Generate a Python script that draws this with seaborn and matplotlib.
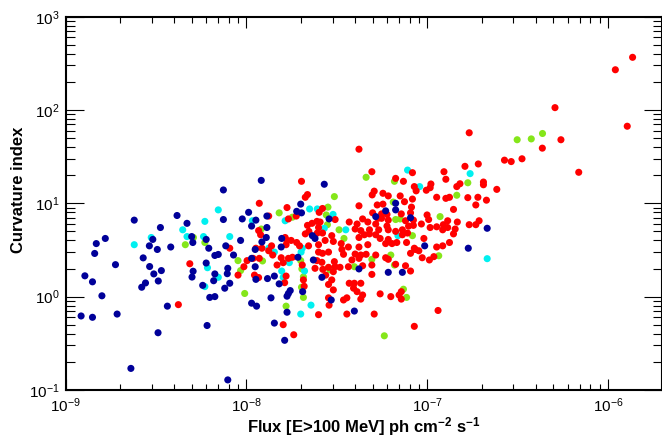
import numpy as np
import pandas as pd
import matplotlib
matplotlib.use("Agg")
import matplotlib.pyplot as plt
from matplotlib.ticker import LogLocator, LogFormatterMathtext, NullFormatter
import seaborn as sns

# ---------------- data ----------------
navy_flux = [2.40e-9, 4.14e-9, 4.70e-9, 3.35e-9, 3.04e-9, 1.66e-9, 1.48e-9, 2.91e-9, 3.22e-9, 3.82e-9,
             4.99e-9, 6.0e-9, 5.06e-9, 6.2e-9, 1.45e-9, 2.69e-9, 1.89e-9, 2.92e-9, 3.39e-9, 3.08e-9,
             1.28e-9, 1.41e-9, 3.26e-9, 2.77e-9, 2.64e-9, 6.0e-9, 5.08e-9, 5.01e-9, 5.74e-9, 6.28e-9,
             1.59e-9, 3.66e-9, 1.22e-9, 1.41e-9, 1.93e-9, 6.07e-9, 3.25e-9, 2.30e-9, 1.21e-8, 7.47e-9,
             2.70e-8, 2.0e-8, 1.03e-8, 1.90e-8, 2.02e-8, 2.87e-8, 7.47e-9, 9.5e-9, 1.13e-8, 1.30e-8,
             1.07e-8, 1.30e-8, 1.29e-8, 9.3e-9, 1.22e-8, 1.57e-8, 2.32e-8, 2.40e-8, 7.7e-9, 1.56e-8,
             6.7e-9, 7.0e-9, 8.5e-9, 1.12e-8, 1.12e-8, 7.9e-9, 7.85e-9, 6.7e-9, 6.6e-9, 8.1e-9,
             7.6e-9, 1.13e-8, 1.31e-8, 1.43e-8, 1.52e-8, 1.93e-8, 2.05e-8, 1.71e-8, 1.75e-8, 1.68e-8,
             1.37e-8, 6.7e-9, 1.07e-8, 1.14e-8, 1.68e-8, 1.43e-8, 1.63e-8, 7.9e-9, 2.35e-8, 2.62e-8,
             6.7e-8, 6.7e-8, 5.9e-8, 8.1e-8, 5.2e-8, 9.7e-8, 4.2e-8, 6.1e-8, 7.3e-8, 2.95e-8,
             3.96e-8, 2.15e-7, 1.69e-7, 1.07e-8]
navy_ci = [6.6, 7.4, 6.1, 5.5, 4.1, 4.2, 3.7, 3.5, 3.2, 3.4,
           4.4, 4.1, 3.8, 3.3, 2.9, 2.6, 2.2, 2.1, 1.9, 1.75,
           1.67, 1.44, 1.47, 1.40, 1.26, 2.29, 1.87, 1.62, 1.32, 0.98,
           1.02, 0.79, 0.62, 0.60, 0.65, 0.49, 0.41, 0.17, 17.6, 13.9,
           16.0, 9.8, 8.0, 8.2, 7.9, 6.8, 6.7, 6.8, 6.6, 7.3,
           5.7, 5.5, 4.3, 4.0, 3.85, 4.2, 4.5, 4.2, 3.5, 3.4,
           2.76, 2.83, 2.79, 3.2, 2.09, 2.01, 1.76, 1.75, 1.48, 1.39,
           1.23, 1.53, 1.56, 1.66, 1.37, 2.64, 1.13, 1.08, 1.16, 1.01,
           0.97, 1.0, 0.85, 0.79, 0.68, 0.52, 0.34, 0.128, 2.47, 1.61,
           10.0, 8.5, 8.3, 7.0, 7.2, 3.5, 1.98, 1.82, 1.82, 0.92,
           0.70, 5.4, 3.3, 2.57]

cyan_flux = [5.9e-9, 4.45e-9, 2.98e-9, 2.40e-9, 4.7e-9, 5.8e-9, 6.1e-9, 5.9e-9, 7.0e-9, 2.24e-8,
             2.47e-8, 1.64e-8, 1.08e-8, 8.1e-9, 2.70e-8, 1.33e-8, 2.04e-8, 1.43e-8, 7.0e-9, 1.60e-8,
             1.57e-8, 1.73e-8, 2.01e-8, 2.10e-8, 2.0e-8, 2.28e-8, 7.8e-8, 9.1e-8, 3.02e-8, 3.55e-8,
             6.9e-8, 1.73e-7, 2.15e-7]
cyan_ci = [6.4, 5.2, 4.3, 3.6, 4.4, 4.4, 2.04, 1.28, 8.5, 8.7,
           8.7, 6.5, 6.5, 4.4, 5.4, 3.3, 3.3, 3.0, 1.61, 1.61,
           1.88, 2.31, 3.0, 1.88, 0.65, 0.81, 22.7, 15.1, 7.6, 5.2,
           4.5, 20.8, 2.55]

green_flux = [5.1e-9, 4.6e-9, 5.9e-9, 1.52e-8, 1.80e-8, 2.77e-8, 1.21e-8, 2.81e-8, 9.0e-9, 1.23e-8,
              9.3e-9, 2.0e-8, 2.03e-8, 2.07e-8, 2.02e-8, 2.07e-8, 9.8e-9, 1.66e-8, 2.85e-8, 4.6e-8,
              6.6e-8, 3.07e-8, 6.5e-8, 1.18e-7, 6.7e-8, 7.1e-8, 2.83e-8, 3.26e-8, 8.3e-8, 3.47e-8,
              4.95e-8, 6.3e-8, 1.16e-7, 2.91e-8, 3.96e-8, 6.6e-8, 7.4e-8, 7.7e-8, 5.8e-8, 4.35e-7,
              3.77e-7, 3.15e-7, 1.68e-7, 1.46e-7]
green_ci = [4.3, 3.6, 3.8, 7.9, 7.1, 7.5, 5.3, 5.9, 2.43, 2.41,
            1.90, 2.43, 1.98, 1.63, 1.26, 0.98, 1.08, 0.79, 2.04, 19.0,
            17.2, 11.8, 10.3, 7.2, 6.7, 6.8, 9.1, 5.2, 4.5, 4.2,
            2.51, 2.79, 2.74, 1.93, 2.09, 2.18, 1.20, 0.98, 0.38, 56,
            49, 48, 16.6, 12.2]

red_flux = [4.87e-9, 4.21e-9, 2.02e-8, 2.18e-8, 2.12e-8, 1.18e-8, 1.68e-8, 2.64e-8, 2.53e-8, 1.89e-8,
            1.71e-8, 1.33e-8, 1.17e-8, 1.20e-8, 1.64e-8, 1.68e-8, 1.77e-8, 1.90e-8, 1.66e-8, 2.12e-8,
            2.22e-8, 2.31e-8, 2.18e-8, 2.46e-8, 2.56e-8, 2.51e-8, 2.47e-8, 2.64e-8, 2.73e-8, 2.51e-8,
            2.21e-8, 1.13e-8, 1.22e-8, 8.1e-9, 1.01e-8, 9.7e-9, 1.09e-8, 1.18e-8, 1.33e-8, 1.40e-8,
            9.0e-9, 1.11e-8, 1.17e-8, 1.66e-8, 1.63e-8, 1.48e-8, 1.56e-8, 1.60e-8, 1.71e-8, 1.80e-8,
            1.97e-8, 2.04e-8, 2.07e-8, 2.09e-8, 2.51e-8, 1.60e-8, 1.83e-8, 2.51e-8, 2.64e-8, 2.46e-8,
            2.62e-8, 2.40e-8, 2.65e-8, 2.75e-8, 2.85e-8, 2.87e-8, 1.38e-8, 4.2e-8, 4.95e-8, 8.3e-8,
            6.7e-8, 7.4e-8, 1.24e-7, 1.27e-7, 8.5e-8, 1.05e-7, 1.04e-7, 9.9e-8, 8.7e-8, 5.1e-8,
            4.97e-8, 5.7e-8, 6.1e-8, 7.1e-8, 8.3e-8, 1.13e-7, 1.27e-7, 1.33e-7, 4.2e-8, 5.3e-8,
            5.7e-8, 7.5e-8, 8.2e-8, 8.1e-8, 5.0e-8, 5.6e-8, 6.0e-8, 7.2e-8, 1.0e-7, 7.6e-8,
            8.4e-8, 1.02e-7, 5.35e-8, 5.6e-8, 6.1e-8, 3.71e-8, 4.4e-8, 4.7e-8, 4.1e-8, 5.2e-8,
            6.0e-8, 7.9e-8, 8.4e-8, 9.3e-8, 1.04e-7, 1.13e-7, 1.23e-7, 1.30e-7, 1.22e-7, 3.10e-8,
            4.0e-8, 4.3e-8, 4.8e-8, 4.8e-8, 5.4e-8, 6.1e-8, 6.7e-8, 7.3e-8, 7.8e-8, 7.3e-8,
            2.97e-8, 4.2e-8, 4.5e-8, 5.2e-8, 5.5e-8, 6.1e-8, 9.6e-8, 3.03e-8, 3.35e-8, 3.67e-8,
            4.2e-8, 4.7e-8, 5.9e-8, 6.4e-8, 6.8e-8, 7.7e-8, 8.5e-8, 1.13e-7, 1.22e-7, 2.85e-8,
            3.38e-8, 3.45e-8, 4.0e-8, 4.3e-8, 4.6e-8, 4.2e-8, 5.2e-8, 5.9e-8, 6.1e-8, 8.1e-8,
            8.6e-8, 9.0e-8, 9.4e-8, 1.03e-7, 1.09e-7, 3.07e-8, 2.85e-8, 3.10e-8, 3.03e-8, 3.30e-8,
            3.84e-8, 3.67e-8, 4.4e-8, 4.95e-8, 4.95e-8, 6.7e-8, 7.6e-8, 8.1e-8, 2.97e-8, 2.85e-8,
            3.03e-8, 3.71e-8, 3.96e-8, 4.3e-8, 3.92e-8, 4.1e-8, 4.4e-8, 4.3e-8, 3.45e-8, 3.60e-8,
            5.5e-8, 6.3e-8, 7.2e-8, 7.2e-8, 7.0e-8, 3.60e-8, 5.1e-8, 1.15e-7, 8.5e-8, 1.37e-6,
            1.10e-6, 5.1e-7, 1.28e-6, 1.71e-7, 5.5e-7, 4.34e-7, 2.68e-7, 2.92e-7, 3.35e-7, 6.9e-7,
            1.62e-7, 1.92e-7, 2.05e-7, 2.05e-7, 1.52e-7, 1.46e-7, 2.43e-7, 1.68e-7, 1.91e-7, 2.13e-7,
            1.86e-7, 1.40e-7, 1.30e-7, 1.47e-7, 1.71e-7, 1.86e-7, 1.94e-7, 1.43e-7, 1.40e-7, 1.33e-7]
red_ci = [2.25, 0.82, 17.2, 12.4, 11.6, 10.0, 9.0, 8.8, 8.0, 7.3,
          6.8, 7.3, 5.1, 4.6, 4.3, 4.0, 4.0, 3.8, 3.6, 4.7,
          5.0, 6.1, 5.8, 6.4, 6.3, 5.5, 4.8, 4.8, 4.0, 3.6,
          3.5, 3.3, 3.3, 3.3, 2.43, 2.09, 2.57, 2.57, 3.1, 2.79,
          1.70, 1.70, 1.60, 1.66, 1.41, 2.18, 2.61, 2.31, 2.57, 2.64,
          3.5, 2.18, 1.51, 1.29, 0.64, 0.50, 0.39, 3.0, 2.91, 2.43,
          2.33, 2.01, 1.96, 1.70, 0.97, 0.81, 3.5, 38, 21.8, 21.3,
          18.5, 17.2, 21.8, 18.1, 15.1, 16.1, 14.7, 13.8, 13.6, 13.5,
          12.3, 12.8, 12.0, 12.0, 11.1, 11.6, 11.3, 11.6, 9.4, 9.6,
          9.8, 10.4, 9.1, 7.9, 7.9, 7.7, 7.6, 7.7, 7.5, 6.5,
          6.6, 6.7, 6.9, 6.9, 6.6, 6.3, 6.8, 6.3, 6.0, 6.0,
          5.7, 5.7, 5.8, 6.0, 5.5, 5.6, 5.9, 5.5, 5.2, 6.7,
          5.3, 5.1, 5.2, 4.7, 5.2, 5.2, 5.0, 5.2, 4.8, 4.6,
          4.5, 4.3, 4.6, 4.6, 4.2, 4.1, 4.2, 3.9, 3.7, 3.4,
          3.4, 3.6, 3.7, 3.7, 3.8, 3.8, 3.3, 3.4, 3.5, 3.0,
          3.2, 2.84, 2.86, 2.79, 2.84, 2.57, 2.79, 2.61, 2.51, 2.91,
          3.2, 3.1, 2.61, 2.47, 2.68, 2.37, 2.06, 2.09, 1.85, 2.06,
          2.47, 2.09, 2.14, 2.18, 1.73, 2.22, 2.14, 1.88, 1.51, 1.35,
          1.18, 1.39, 1.39, 1.39, 1.23, 1.13, 1.04, 0.94, 0.92, 0.97,
          1.07, 1.0, 1.13, 0.94, 1.04, 0.65, 0.65, 0.71, 0.48, 367,
          270, 106, 67, 57, 48, 39, 29, 28, 30, 21.5,
          24.9, 26.4, 16.9, 15.8, 16.2, 15.1, 14.1, 11.5, 11.6, 10.8,
          9.6, 8.6, 6.5, 6.3, 5.9, 5.9, 6.5, 5.3, 4.7, 3.8]

x_ticks = [1e-9, 1e-8, 1e-7, 1e-6]
y_ticks = [1e-1, 1, 10, 100, 1000]
x_label = r"Flux [E>100 MeV] ph cm$^{\mathbf{-2}}$ s$^{\mathbf{-1}}$"
y_label = "Curvature index"

palette = {"green": "#85e61a", "cyan": "#00f0f0", "red": "#ff0000", "navy": "#000099"}

# draw order: green, cyan, red, navy (last on top)
frames = []
for name, fx, cy in [("green", green_flux, green_ci), ("cyan", cyan_flux, cyan_ci),
                     ("red", red_flux, red_ci), ("navy", navy_flux, navy_ci)]:
    frames.append(pd.DataFrame({"flux": fx, "ci": cy, "cls": name}))
df = pd.concat(frames, ignore_index=True)

# ---------------- style ----------------
sns.set_theme(style="white")
plt.rcParams["font.family"] = ["Liberation Sans", "DejaVu Sans"]
plt.rcParams["mathtext.fontset"] = "custom"
plt.rcParams["mathtext.rm"] = "Liberation Sans"
plt.rcParams["mathtext.it"] = "Liberation Sans:italic"
plt.rcParams["mathtext.bf"] = "Liberation Sans:bold"
plt.rcParams["mathtext.default"] = "regular"
plt.rcParams["text.color"] = "black"
plt.rcParams["axes.labelcolor"] = "black"
plt.rcParams["xtick.color"] = "black"
plt.rcParams["ytick.color"] = "black"

fig = plt.figure(figsize=(6.62, 4.38), dpi=100)
ax = fig.add_axes([65.5 / 662, 1 - 389.9 / 438, (661.5 - 65.5) / 662, (389.9 - 16.7) / 438])

sns.scatterplot(data=df, x="flux", y="ci", hue="cls", palette=palette, legend=False,
                s=26, linewidth=0, ax=ax)

ax.set_xscale("log")
ax.set_yscale("log")
ax.set_xlim(1e-9, 1.98e-6)
ax.set_ylim(0.1, 1000)
ax.set_xticks(x_ticks)
ax.set_yticks(y_ticks)
ax.xaxis.set_major_formatter(LogFormatterMathtext())
ax.yaxis.set_major_formatter(LogFormatterMathtext())
ax.xaxis.set_minor_locator(LogLocator(base=10, subs=np.arange(2, 10)))
ax.yaxis.set_minor_locator(LogLocator(base=10, subs=np.arange(2, 10)))
ax.xaxis.set_minor_formatter(NullFormatter())
ax.yaxis.set_minor_formatter(NullFormatter())

ax.tick_params(axis="x", which="major", direction="in", length=8, width=0.8,
               top=True, bottom=True, labelsize=11, pad=5, color="black", labelcolor="black")
ax.tick_params(axis="x", which="minor", direction="in", length=4.3, width=0.8,
               top=True, bottom=True, color="black")
ax.tick_params(axis="y", which="major", direction="in", length=13, width=0.8,
               left=True, right=True, labelsize=11, pad=4, color="black", labelcolor="black")
ax.tick_params(axis="y", which="minor", direction="in", length=6.5, width=0.8,
               left=True, right=True, color="black")

for sp in ax.spines.values():
    sp.set_visible(True)
    sp.set_color("black")
    sp.set_linewidth(1.5)

ax.set_xlabel("")
ax.set_ylabel("")
fig.text(364 / 662, 1 - 432 / 438, x_label, ha="center", va="baseline",
         fontsize=12, fontweight="bold", color="black")
fig.text(19 / 662, 1 - 190 / 438, y_label, ha="center", va="center",
         rotation=90, fontsize=12, fontweight="bold", color="black")

fig.savefig("out.png", dpi=100, facecolor="white")
